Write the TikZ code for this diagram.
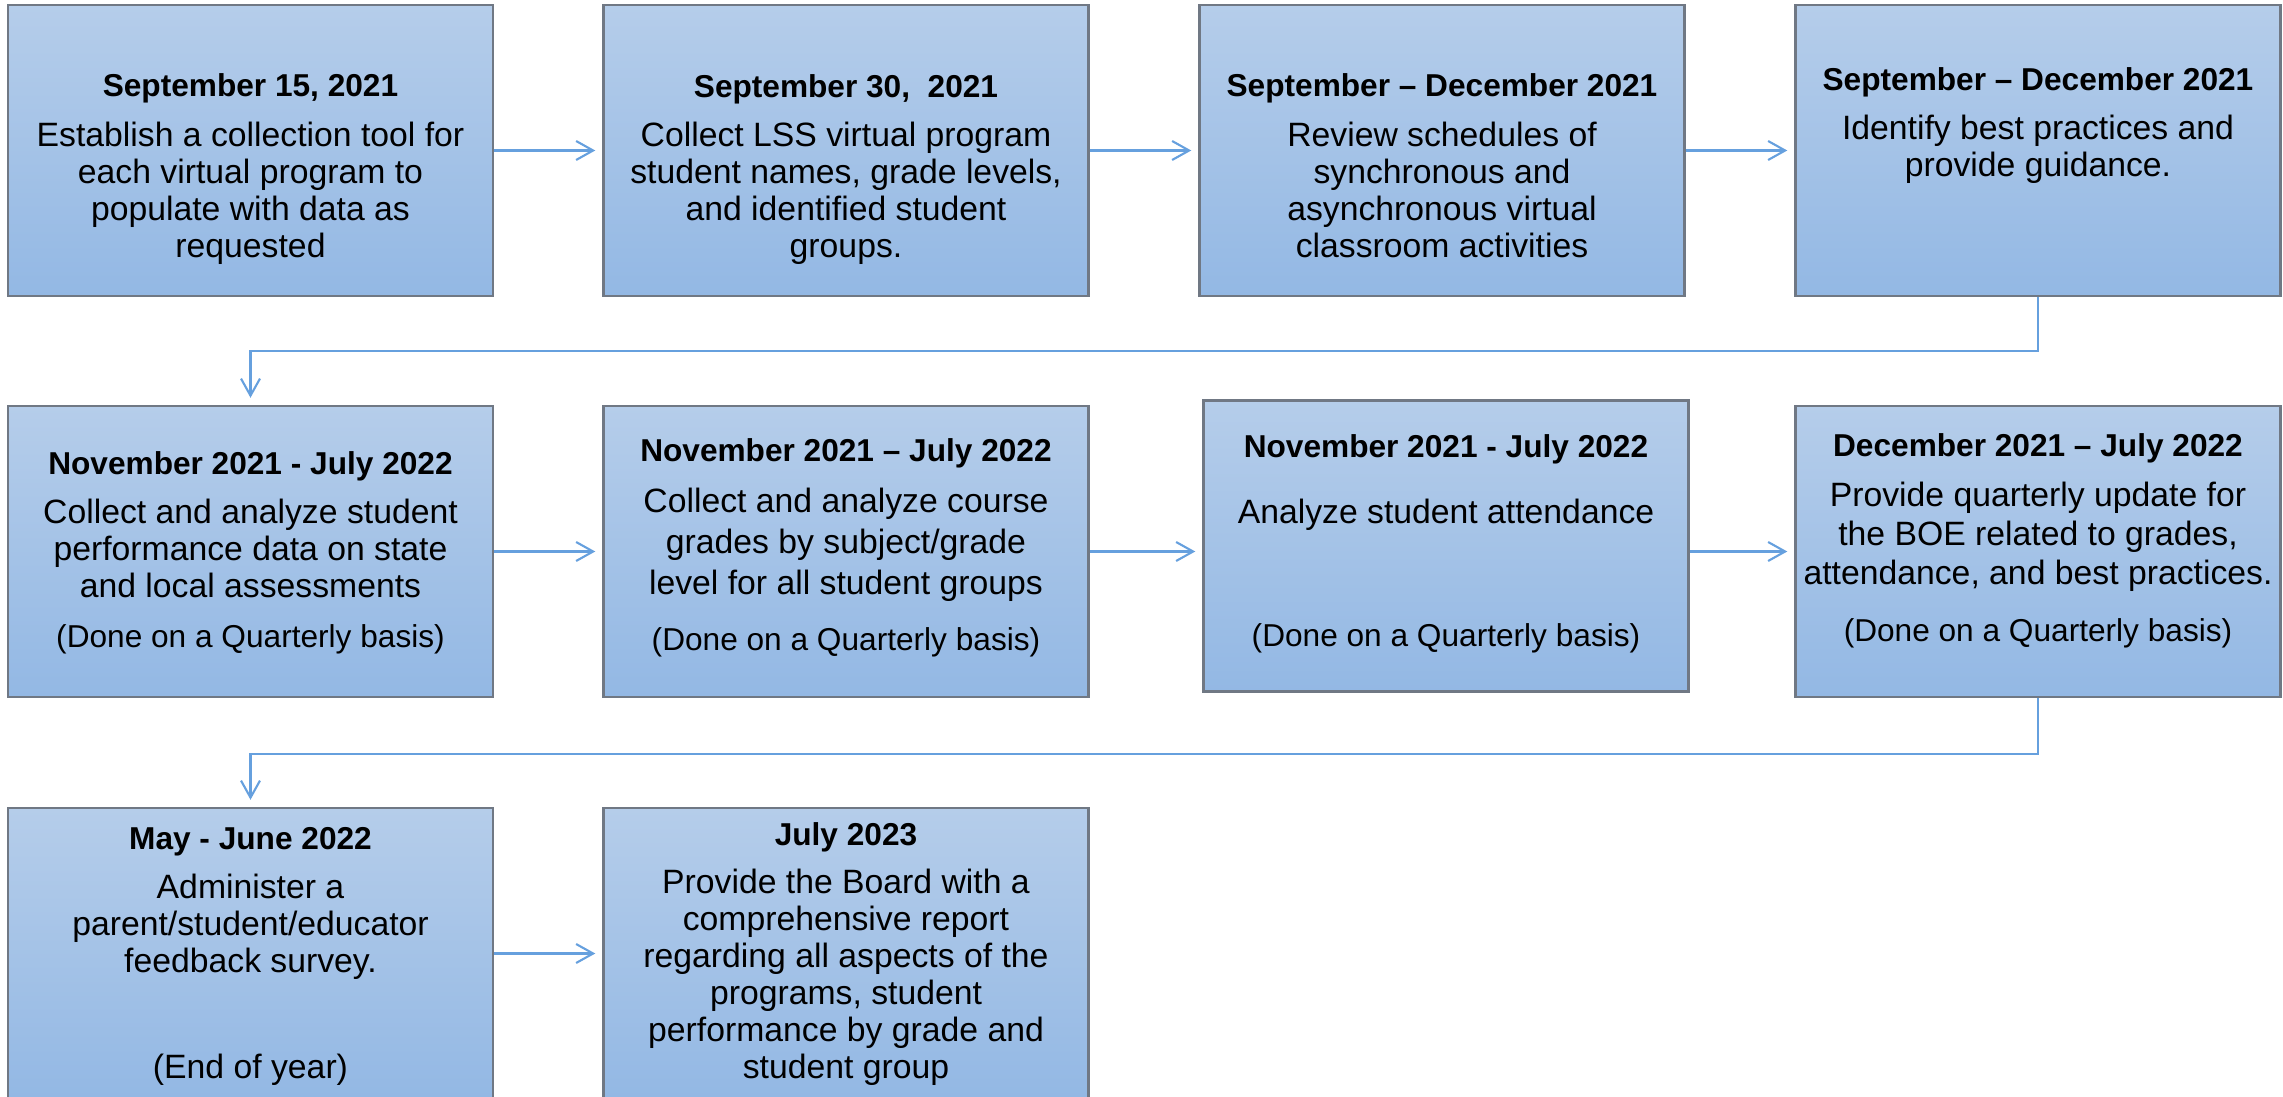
\documentclass[tikz,border=0pt]{standalone}
\usepackage{fontspec}
\setmainfont{Liberation Sans}
\usetikzlibrary{arrows.meta}

\definecolor{cardtop}{RGB}{181,205,234}
\definecolor{cardbottom}{RGB}{147,184,228}
\definecolor{cardline}{RGB}{112,120,132}
\definecolor{flowblue}{RGB}{102,160,222}

% text inside one step box
\newcommand{\cardbox}[1]{\parbox[c][2.91cm][t]{4.85cm}{\centering\fontsize{9.6}{10.5}\selectfont #1}}
\newcommand{\when}[2]{\rule{0pt}{#1cm}{\bfseries\fontsize{9}{10.5}\selectfont #2}}
\newcommand{\often}[1]{{\fontsize{9}{10.5}\selectfont #1}}

\begin{document}
\begin{tikzpicture}[
  card/.style={rectangle, draw=cardline, line width=0.7pt, top color=cardtop, bottom color=cardbottom, inner sep=0pt},
  arrow/.style={-{Straight Barb[length=0.17cm, width=0.19cm]}, draw=flowblue, line width=0.6pt, shorten >=0.07cm}
]
\useasboundingbox (0,0) rectangle (22.83,-10.97);

% first row
\node[card] (sep15) at (2.505,-1.505) {\cardbox{\when{0.92}{September 15, 2021}\\[0.13cm]
  Establish a collection tool for\\each virtual program to\\populate with data as\\requested}};
\node[card] (sep30) at (8.46,-1.505) {\cardbox{\when{0.93}{September 30,\ \ 2021}\\[0.12cm]
  Collect LSS virtual program\\student names, grade levels,\\and identified student\\groups.}};
\node[card] (review) at (14.42,-1.505) {\cardbox{\when{0.92}{September – December 2021}\\[0.13cm]
  Review schedules of\\synchronous and\\asynchronous virtual\\classroom activities}};
\node[card] (practices) at (20.38,-1.505) {\cardbox{\when{0.86}{September – December 2021}\\[0.12cm]
  Identify best practices and\\provide guidance.}};

% second row
\node[card] (assess) at (2.505,-5.515) {\cardbox{\when{0.68}{November 2021 - July 2022}\\[0.13cm]
  Collect and analyze student\\performance data on state\\and local assessments\\[0.13cm]
  \often{(Done on a Quarterly basis)}}};
\node[card] (grades) at (8.46,-5.515) {\cardbox{\when{0.55}{November 2021 – July 2022}\\[0.15cm]
  Collect and analyze course\\[0.04cm]grades by subject/grade\\[0.04cm]level for all student groups\\[0.19cm]
  \often{(Done on a Quarterly basis)}}};
\node[card] (attend) at (14.46,-5.46) {\cardbox{\when{0.57}{November 2021 - July 2022}\\[0.29cm]
  Analyze student attendance\\[0.86cm]
  \often{(Done on a Quarterly basis)}}};
\node[card] (update) at (20.38,-5.515) {\cardbox{\when{0.50}{December 2021 – July 2022}\\[0.14cm]
  Provide quarterly update for\\[0.02cm]the BOE related to grades,\\[0.02cm]attendance, and best practices.\\[0.20cm]
  \often{(Done on a Quarterly basis)}}};

% third row
\node[card] (survey) at (2.505,-9.535) {\cardbox{\when{0.41}{May - June 2022}\\[0.13cm]
  Administer a\\parent/student/educator\\feedback survey.\\[0.69cm]
  (End of year)}};
\node[card] (report) at (8.46,-9.535) {\cardbox{\when{0.37}{July 2023}\\[0.12cm]
  Provide the Board with a\\comprehensive report\\regarding all aspects of the\\programs, student\\performance by grade and\\student group}};

\draw[arrow] (sep15.east) -- (sep30.west);
\draw[arrow] (sep30.east) -- (review.west);
\draw[arrow] (review.east) -- (practices.west);
\draw[arrow] (practices.south) -- ++(0,-0.54) -| (assess.north);
\draw[arrow] (assess.east) -- (grades.west);
\draw[arrow] (grades.east) -- (grades.east -| attend.west);
\draw[arrow] (attend.east |- update.west) -- (update.west);
\draw[arrow] (update.south) -- ++(0,-0.56) -| (survey.north);
\draw[arrow] (survey.east) -- (report.west);
\end{tikzpicture}
\end{document}
